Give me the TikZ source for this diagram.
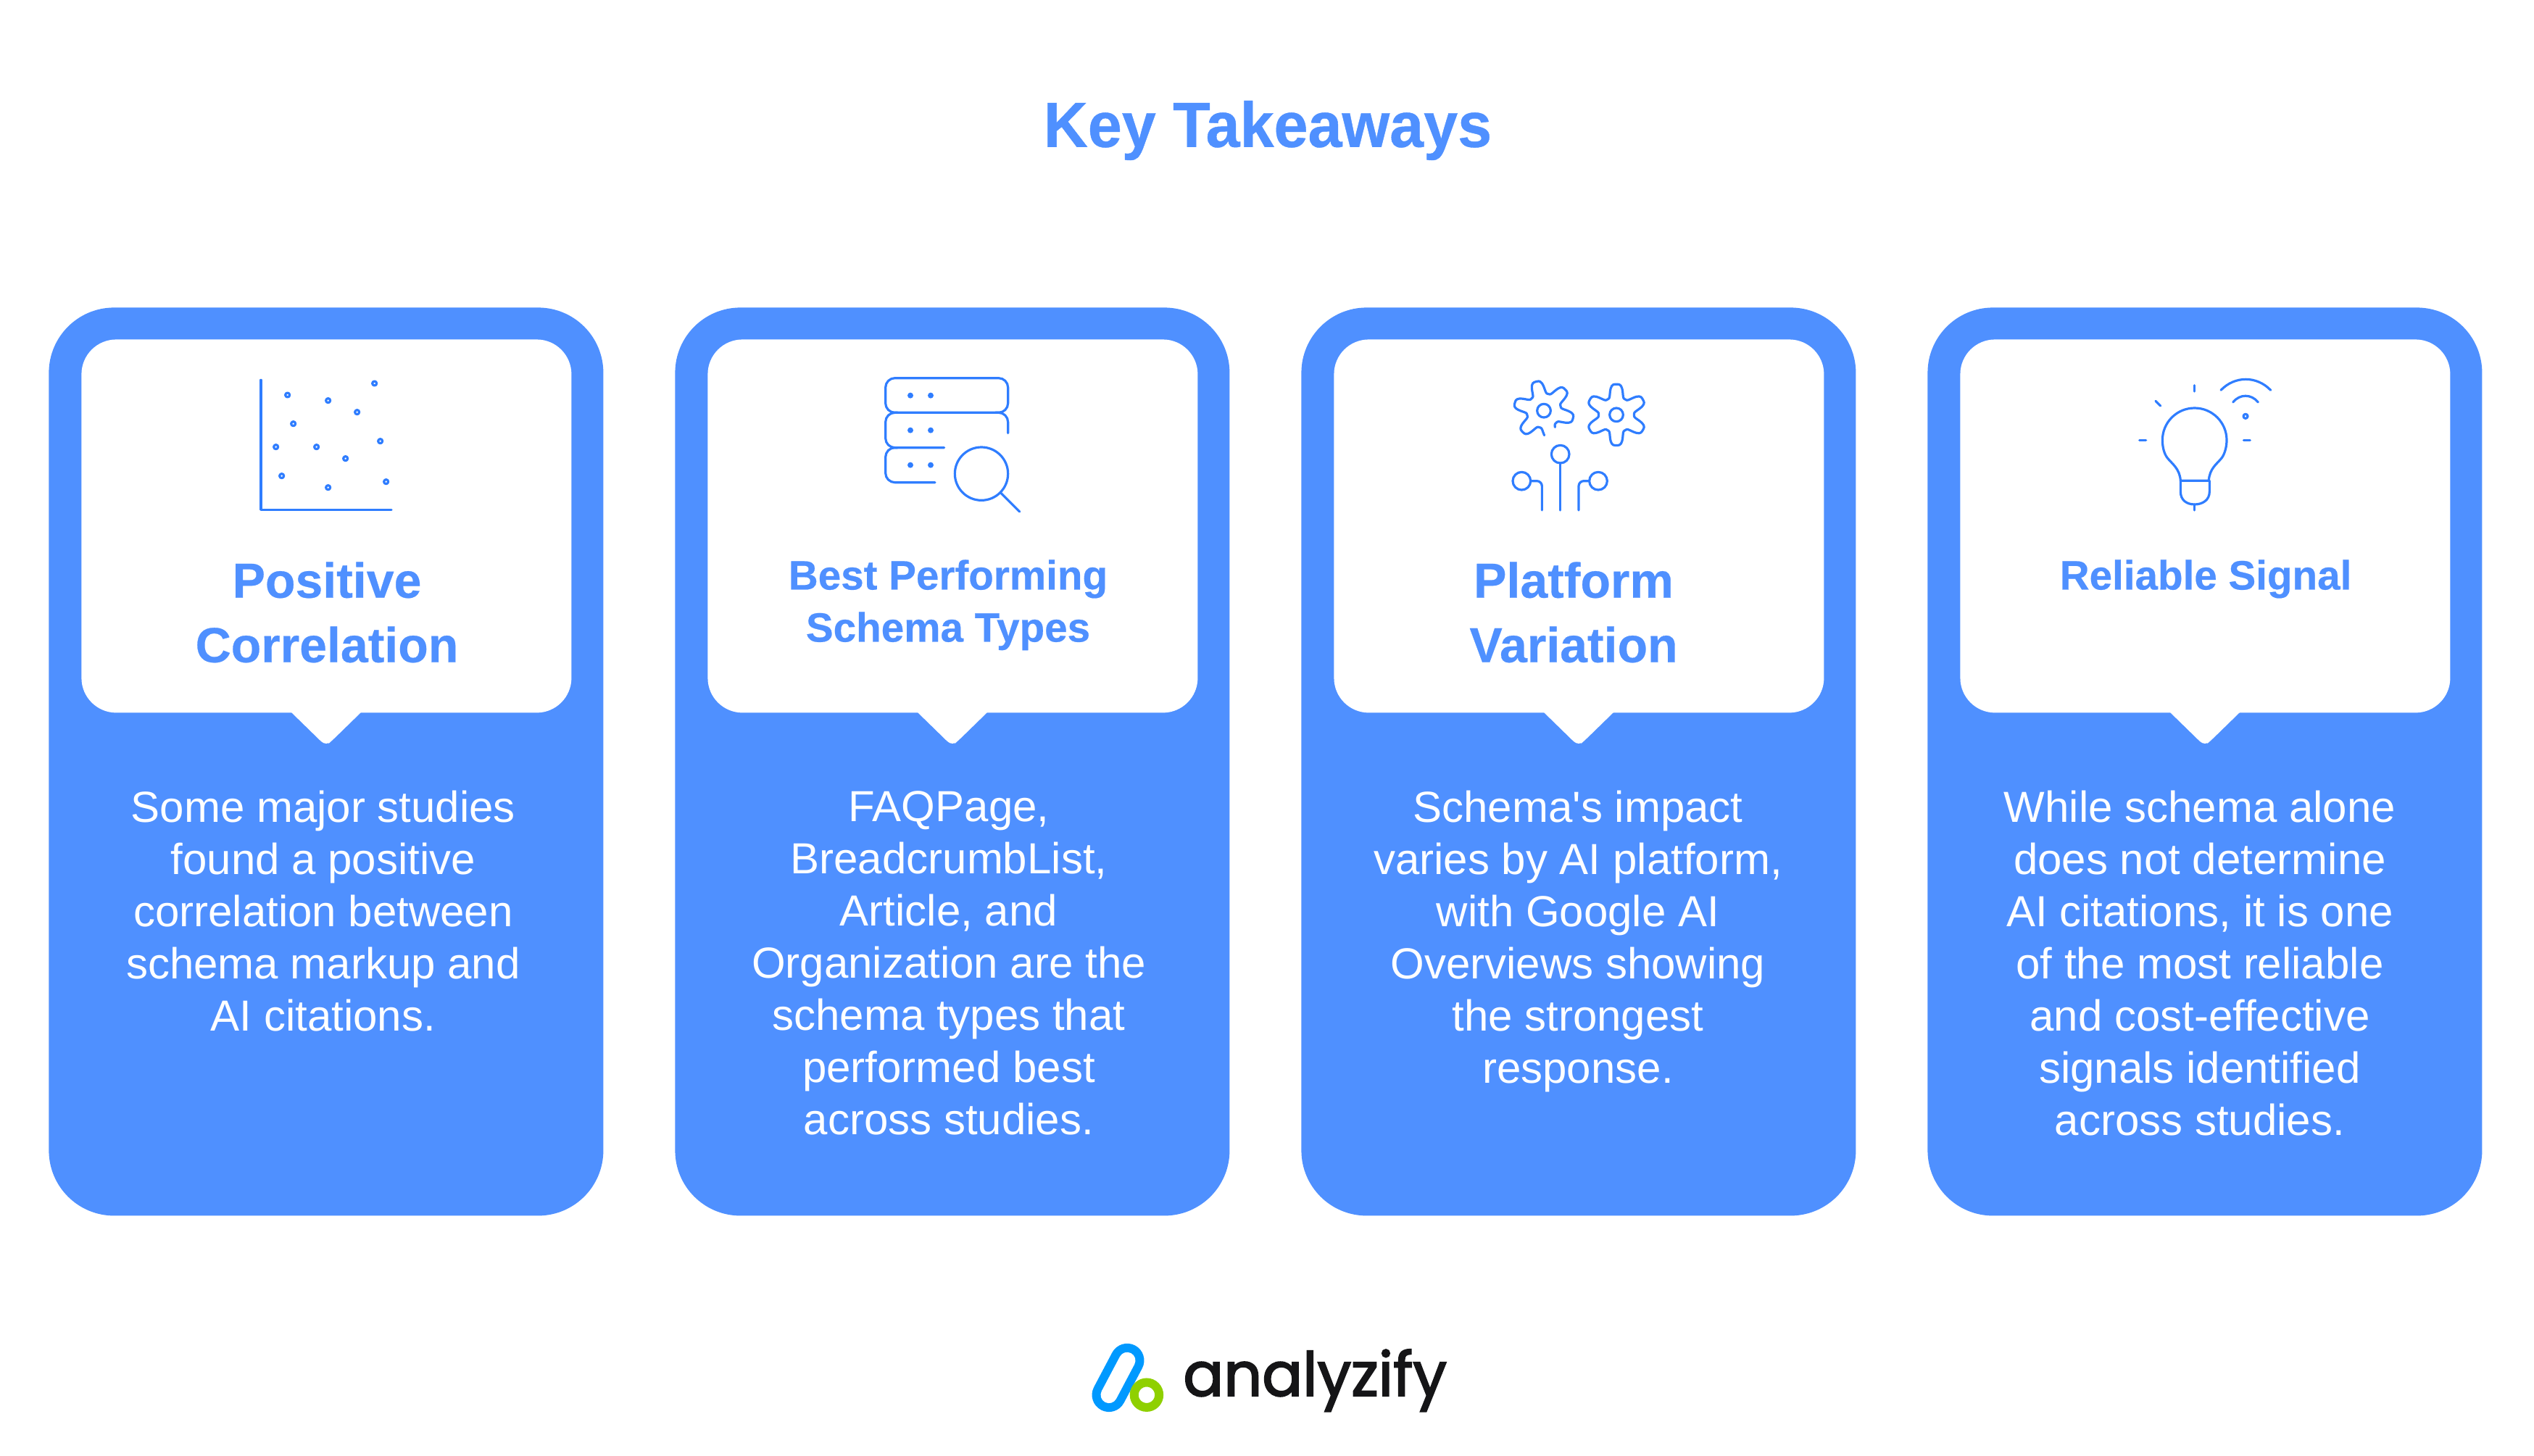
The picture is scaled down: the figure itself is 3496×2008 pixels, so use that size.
\documentclass[tikz,border=0pt]{standalone}
\usepackage{fontspec}
\setmainfont{Liberation Sans}
\newfontfamily\plainfont{Liberation Sans}
\newfontfamily\logofont{Poppins}[FakeBold=2.4,FakeStretch=0.985]
\newfontfamily\titlefont{Liberation Sans}[FakeStretch=0.96,BoldFeatures={FakeBold=0.5}]
\newfontfamily\headfont{Liberation Sans}[BoldFeatures={FakeBold=0.4}]
\definecolor{cardblue}{HTML}{4F90FF}
\definecolor{iconblue}{HTML}{2F7DFF}
\definecolor{logoblue}{HTML}{0099FF}
\definecolor{logogreen}{HTML}{8FD000}
\definecolor{logoink}{HTML}{151517}
\tikzset{
  cardbox/.style={fill=cardblue,rounded corners=45pt,minimum width=382.5pt,minimum height=626.5pt,inner sep=0pt,anchor=north west},
  bubblebox/.style={fill=white,rounded corners=24pt,minimum width=338pt,minimum height=257.5pt,inner sep=0pt,anchor=north west},
  bodytext/.style={text=white,align=center,anchor=north,inner sep=0pt,font=\fontsize{30}{36}\plainfont},
  headbig/.style={text=cardblue,align=center,anchor=north,inner sep=0pt,font=\fontsize{34}{44.5}\headfont\bfseries},
  headsmall/.style={text=cardblue,align=center,anchor=north,inner sep=0pt,font=\fontsize{28.3}{36}\headfont\bfseries},
  iconline/.style={draw=iconblue,line width=1.6pt,line cap=round,line join=round},
  icondot/.style={fill=iconblue,draw=none},
}
\newcommand{\cardat}[2]{%
  \node[cardbox] (card#1) at (#2,424) {};
  \node[bubblebox] (bubble#1) at (#2+45,468) {};
  \fill[white] (#2+334,982) -- (#2+374,1021) [rounded corners=4pt] -- (#2+383,1029) -- (#2+392,1021) [sharp corners] -- (#2+432,982) -- cycle;
}
\begin{document}
\begin{tikzpicture}[x=0.5pt,y=-0.5pt]
\useasboundingbox (0,0) rectangle (3496,2008);
\fill[white] (0,0) rectangle (3496,2008);

\node[text=cardblue,inner sep=0pt,font=\fontsize{44}{50}\titlefont\bfseries] (title) at (1749,180) {Key Takeaways};

\cardat{1}{67}
\cardat{2}{931}
\cardat{3}{1795}
\cardat{4}{2659}

% scatter icon
\begin{scope}[shift={(300,480)},scale=1/3]
  \draw[iconline] (180,133) -- (180,670) -- (720,670);
  \foreach \p in {(290,195),(458,218),(650,147),(578,266),(314,314),(674,386),(242,410),(410,410),(530,458),(266,530),(458,578),(698,554)}
    \draw[iconline] \p circle[radius=9];
\end{scope}

% server icon
\begin{scope}[shift={(1170,490)},scale=1/3]
  \draw[iconline,rounded corners=6.5pt] (155,95) rectangle (662,238);
  \draw[iconline,rounded corners=6.5pt] (205,238) -- (155,238) -- (155,383) -- (398,383);
  \draw[iconline,rounded corners=6.5pt] (610,238) -- (662,238) -- (662,323);
  \draw[iconline,rounded corners=6.5pt] (205,383) -- (155,383) -- (155,527) -- (360,527);
  \foreach \yy in {167,311,455}{
    \fill[icondot] (258,\yy) circle[radius=12];
    \fill[icondot] (342,\yy) circle[radius=12];
  }
  \draw[iconline] (552,491) circle[radius=110];
  \draw[iconline] (632,570) -- (710,648);
\end{scope}

% gears icon
\begin{scope}[shift={(2040,500)},scale=1/3]
  \draw[iconline] plot[smooth,domain=-56:271,samples=110,variable=\t] ({270+(98+30*(cos(6*(\t-105))-0.12*cos(18*(\t-105))))*cos(\t)},{200-(98+30*(cos(6*(\t-105))-0.12*cos(18*(\t-105))))*sin(\t)});
  \draw[iconline] (270,200) circle[radius=28];
  \draw[iconline] plot[smooth cycle,domain=0:357,samples=120,variable=\t] ({570+(100+30*(cos(6*(\t-90))-0.12*cos(18*(\t-90))))*cos(\t)},{217-(100+30*(cos(6*(\t-90))-0.12*cos(18*(\t-90))))*sin(\t)});
  \draw[iconline] (570,217) circle[radius=28];
  \draw[iconline] (338,380) circle[radius=37];
  \draw[iconline] (338,417) -- (338,612);
  \draw[iconline] (178,491) circle[radius=37];
  \draw[iconline,rounded corners=3.5pt] (215,491) -- (262,491) -- (262,612);
  \draw[iconline] (495,491) circle[radius=37];
  \draw[iconline,rounded corners=3.5pt] (458,491) -- (414,491) -- (414,612);
\end{scope}

% bulb icon
\begin{scope}[shift={(2920,500)},scale=1/3]
  \draw[iconline] (265,490) .. controls (262,440) and (230,420) .. (210,395) .. controls (195,375) and (190,345) .. (190,322) .. controls (190,248.5) and (249.5,189) .. (323,189) .. controls (396.5,189) and (456,248.5) .. (456,322) .. controls (456,345) and (450,375) .. (436,395) .. controls (416,420) and (384,440) .. (382,490) -- cycle;
  \draw[iconline] (265,490) -- (265,535) .. controls (265,570) and (290,588) .. (323,588) .. controls (356,588) and (385,570) .. (385,535) -- (385,490);
  \draw[iconline] (323,588) -- (323,612);
  \draw[iconline] (323,95) -- (323,120);
  \draw[iconline] (162,160) -- (182,180);
  \draw[iconline] (95,323) -- (122,323);
  \draw[iconline] (526,323) -- (553,323);
  \draw[iconline] (534,223) circle[radius=9];
  \draw[iconline] (432,115) .. controls (490,55) and (580,55) .. (638,115);
  \draw[iconline] (482,165) .. controls (510,130) and (558,130) .. (586,165);
\end{scope}

% headings
\node[headbig] (head1) at (451,775) {Positive\\Correlation};
\node[headsmall] (head2) at (1308,772) {Best Performing\\Schema Types};
\node[headbig] (head3) at (2171,775) {Platform\\Variation};
\node[headsmall] (head4) at (3043,772) {Reliable Signal};

% body
\node[bodytext] (body1) at (446,1091) {Some major studies\\found a positive\\correlation between\\schema markup and\\AI citations.};
\node[bodytext] (body2) at (1309,1091) {FAQPage,\\BreadcrumbList,\\Article, and\\Organization are the\\schema types that\\performed best\\across studies.};
\node[bodytext] (body3) at (2177,1091) {Schema's impact\\varies by AI platform,\\with Google AI\\Overviews showing\\the strongest\\response.};
\node[bodytext] (body4) at (3035,1091) {While schema alone\\does not determine\\AI citations, it is one\\of the most reliable\\and cost-effective\\signals identified\\across studies.};

% logo
\begin{scope}[shift={(1480,1830)},scale=1/2.904]
  \draw[logoblue,line width=23.4pt,line cap=round] (218,137) -- (145,275);
  \draw[white,line width=11.4pt,line cap=round] (218,137) -- (145,275);
  \draw[logogreen,fill=white,line width=6pt] (296,275) circle[radius=50];
\end{scope}
\node[text=logoink,anchor=base west,inner sep=0pt,font=\fontsize{42}{50}\logofont] (logotext) at (1632,1926) {analyzify};
\end{tikzpicture}
\end{document}
